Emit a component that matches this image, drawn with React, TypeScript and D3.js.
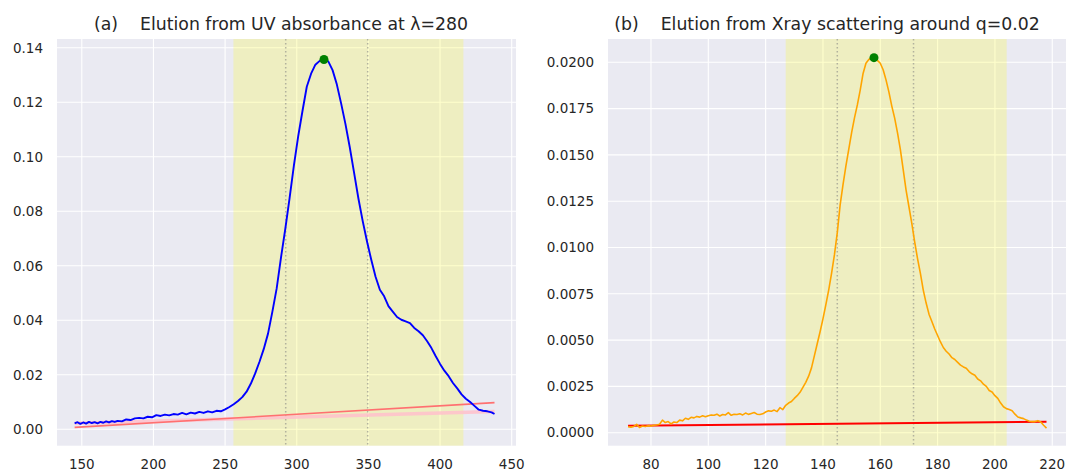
import React from "react";
import * as d3 from "d3";

// ---------- data: panel (a) UV ----------
const uvX = [145,147,149,151,153,155,157,159,161,163,165,167,169,171,173,175,178,181,184,187,190,193,196,199,202,205,208,211,214,217,220,223,226,229,232,235,238,241,244,247,250,253,256,259,262,265,268,271,274,277,280,283,286,289,292,295,298,301,304,307,310,313,316,319,322,325,328,331,334,337,340,343,346,349,352,355,358,361,364,367,370,373,376,379,382,385,388,391,394,397,400,403,406,409,412,415,418,421,424,427,430,433,436,438];
const uvY = [0.0022,0.0026,0.0020,0.0025,0.0021,0.0027,0.0023,0.0026,0.0022,0.0027,0.0024,0.0029,0.0025,0.0030,0.0027,0.0031,0.0029,0.0036,0.0034,0.0040,0.0042,0.0040,0.0046,0.0044,0.0052,0.0049,0.0054,0.0051,0.0056,0.0054,0.0060,0.0055,0.0061,0.0058,0.0064,0.0060,0.0066,0.0062,0.0068,0.0066,0.0073,0.0082,0.0092,0.0104,0.0118,0.0138,0.0168,0.0205,0.0248,0.0295,0.0352,0.0432,0.0517,0.0630,0.0735,0.0848,0.0968,0.1075,0.1168,0.1257,0.1305,0.1338,0.1352,0.1357,0.1350,0.1318,0.1265,0.1195,0.1120,0.1035,0.0942,0.0848,0.0765,0.0690,0.0622,0.0560,0.0512,0.0488,0.0452,0.0432,0.0412,0.0402,0.0396,0.0390,0.0372,0.0360,0.0345,0.0323,0.0298,0.0268,0.0240,0.0215,0.0195,0.0170,0.0150,0.0128,0.0112,0.0100,0.0086,0.0072,0.0068,0.0066,0.0062,0.0056];
const uvBaseX = [145, 438];
const uvBaseY = [0.0007, 0.0098];
const uvBase2Y = [0.0022, 0.0065];
const uvPeak = [319, 0.1357];
const uvRange = [255.8, 416.3];
const uvGuides = [292.3, 349.5];
const uvXTicks = [150, 200, 250, 300, 350, 400, 450];
const uvYTicks = [0, 0.02, 0.04, 0.06, 0.08, 0.1, 0.12, 0.14];

// ---------- data: panel (b) Xray ----------
const xrX = [72,73,74,75,76,77,78,79,80,81,82,83,84,85,86,87,88,89,90,91,92,93,94,95,96,97,98,99,100,101,102,103,104,105,106,107,108,109,110,111,112,113,114,115,116,117,118,119,120,121,122,123,124,125,126,127,128,129,130,131,132,133,134,135,136,137,138,139,140,141,142,143,144,145,146,147,148,149,150,151,152,153,154,155,156,157,158,159,160,161,162,163,164,165,166,167,168,169,170,171,172,173,174,175,176,177,178,179,180,181,182,183,184,185,186,187,188,189,190,191,192,193,194,195,196,197,198,199,200,201,202,203,204,205,206,207,208,209,210,211,212,213,214,215,216,217,218];
const xrY = [0.00032,0.00030,0.00034,0.00045,0.00028,0.00036,0.00033,0.00038,0.00036,0.00040,0.00042,0.00046,0.00068,0.00055,0.00060,0.00048,0.00058,0.00055,0.00068,0.00064,0.00078,0.00072,0.00083,0.00080,0.00088,0.00084,0.00091,0.00086,0.00092,0.00096,0.00094,0.00100,0.00090,0.00098,0.00096,0.00108,0.00094,0.00100,0.00098,0.00102,0.00096,0.00106,0.00099,0.00104,0.00109,0.00100,0.00098,0.00102,0.00112,0.00118,0.00116,0.00122,0.00114,0.00135,0.00125,0.00148,0.00160,0.00168,0.00185,0.00200,0.00218,0.00245,0.00272,0.00305,0.00350,0.00415,0.00480,0.00545,0.00615,0.00690,0.00770,0.00860,0.00960,0.01080,0.01230,0.01340,0.01440,0.01530,0.01620,0.01700,0.01770,0.01850,0.01940,0.01995,0.02015,0.02025,0.02025,0.02010,0.01995,0.01960,0.01905,0.01840,0.01765,0.01700,0.01620,0.01530,0.01420,0.01310,0.01220,0.01130,0.01030,0.00940,0.00860,0.00770,0.00700,0.00640,0.00600,0.00560,0.00525,0.00490,0.00460,0.00440,0.00425,0.00405,0.00395,0.00380,0.00365,0.00355,0.00348,0.00330,0.00318,0.00310,0.00290,0.00280,0.00262,0.00250,0.00228,0.00220,0.00200,0.00185,0.00160,0.00140,0.00130,0.00125,0.00118,0.00100,0.00085,0.00080,0.00076,0.00068,0.00062,0.00060,0.00060,0.00065,0.00058,0.00040,0.00025];
const xrBaseX = [72, 218];
const xrBaseY = [0.00038, 0.00059];
const xrPeak = [157.8, 0.02025];
const xrRange = [127.0, 204.1];
const xrGuides = [145.0, 171.6];
const xrXTicks = [80, 100, 120, 140, 160, 180, 200, 220];
const xrYTicks = [0, 0.0025, 0.005, 0.0075, 0.01, 0.0125, 0.015, 0.0175, 0.02];

const FONT = "'DejaVu Sans', sans-serif";
const TEXT = "#262626";

type PanelProps = {
  left: number; right: number; top: number; bottom: number;
  xDomain: [number, number]; yDomain: [number, number];
  xTicks: number[]; yTicks: number[]; yFmt: string;
  title: string; titleX: number;
  xs: number[]; ys: number[]; lineColor: string; lineWidth: number;
  range: number[]; guides: number[]; peak: number[];
  children?: (x: d3.ScaleLinear<number, number>, y: d3.ScaleLinear<number, number>) => React.ReactNode;
};

function Panel(p: PanelProps) {
  const x = d3.scaleLinear().domain(p.xDomain).range([p.left, p.right]);
  const y = d3.scaleLinear().domain(p.yDomain).range([p.bottom, p.top]);
  const fmt = d3.format(p.yFmt);
  const pts = p.xs.map((v, i) => [v, p.ys[i]] as [number, number]);
  const line = d3.line<[number, number]>().x(d => x(d[0])).y(d => y(d[1]));
  return (
    <g>
      <rect x={p.left} y={p.top} width={p.right - p.left} height={p.bottom - p.top} fill="#EAEAF2" />
      {p.xTicks.map(t => (
        <line key={"gx" + t} x1={x(t)} x2={x(t)} y1={p.top} y2={p.bottom} stroke="#fff" strokeWidth={1.1} />
      ))}
      {p.yTicks.map(t => (
        <line key={"gy" + t} x1={p.left} x2={p.right} y1={y(t)} y2={y(t)} stroke="#fff" strokeWidth={1.1} />
      ))}
      <rect x={x(p.range[0])} y={p.top} width={x(p.range[1]) - x(p.range[0])} height={p.bottom - p.top} fill="yellow" fillOpacity={0.2} />
      {p.guides.map(g => (
        <line key={"gd" + g} x1={x(g)} x2={x(g)} y1={p.top} y2={p.bottom} stroke="gray" strokeOpacity={0.55} strokeWidth={1.5} strokeDasharray="1.5 2.5" />
      ))}
      {p.children ? p.children(x, y) : null}
      <path d={line(pts) || ""} fill="none" stroke={p.lineColor} strokeWidth={p.lineWidth} strokeLinejoin="round" />
      <circle cx={x(p.peak[0])} cy={y(p.peak[1])} r={4.5} fill="green" />
      {p.xTicks.map(t => (
        <text key={"tx" + t} x={x(t)} y={469} textAnchor="middle" fontFamily={FONT} fontSize={13.5} fill={TEXT}>{t}</text>
      ))}
      {p.yTicks.map(t => (
        <text key={"ty" + t} x={p.left - 14} y={y(t)} dy="0.35em" textAnchor="end" fontFamily={FONT} fontSize={13.5} fill={TEXT}>{fmt(t)}</text>
      ))}
      <text x={p.titleX} y={30} textAnchor="middle" fontFamily={FONT} fontSize={17.3} fill={TEXT} style={{ whiteSpace: "pre" }}>{p.title}</text>
    </g>
  );
}

export default function App() {
  return (
    <svg width={1067} height={472} style={{ position: "fixed", left: 0, top: 0, background: "#fff" }}>
      <Panel
        left={57} right={516} top={39} bottom={445.7}
        xDomain={[132.7, 453.0]} yDomain={[-0.00602, 0.14323]}
        xTicks={uvXTicks} yTicks={uvYTicks} yFmt=".2f"
        title={"(a)    Elution from UV absorbance at λ=280"} titleX={281}
        xs={uvX} ys={uvY} lineColor="#0000ff" lineWidth={1.9}
        range={uvRange} guides={uvGuides} peak={uvPeak}
      >
        {(x, y) => (
          <g>
            <line x1={x(uvBaseX[0])} x2={x(uvBaseX[1])} y1={y(uvBase2Y[0])} y2={y(uvBase2Y[1])} stroke="pink" strokeOpacity={0.85} strokeWidth={3.5} />
            <line x1={x(uvBaseX[0])} x2={x(uvBaseX[1])} y1={y(uvBaseY[0])} y2={y(uvBaseY[1])} stroke="#ff7070" strokeWidth={1.6} />
          </g>
        )}
      </Panel>
      <Panel
        left={608} right={1066} top={39} bottom={445.7}
        xDomain={[65.0, 224.8]} yDomain={[-0.000702, 0.021258]}
        xTicks={xrXTicks} yTicks={xrYTicks} yFmt=".4f"
        title={"(b)    Elution from Xray scattering around q=0.02"} titleX={827}
        xs={xrX} ys={xrY} lineColor="orange" lineWidth={1.6}
        range={xrRange} guides={xrGuides} peak={xrPeak}
      >
        {(x, y) => (
          <line x1={x(xrBaseX[0])} x2={x(xrBaseX[1])} y1={y(xrBaseY[0])} y2={y(xrBaseY[1])} stroke="red" strokeWidth={2} />
        )}
      </Panel>
    </svg>
  );
}
